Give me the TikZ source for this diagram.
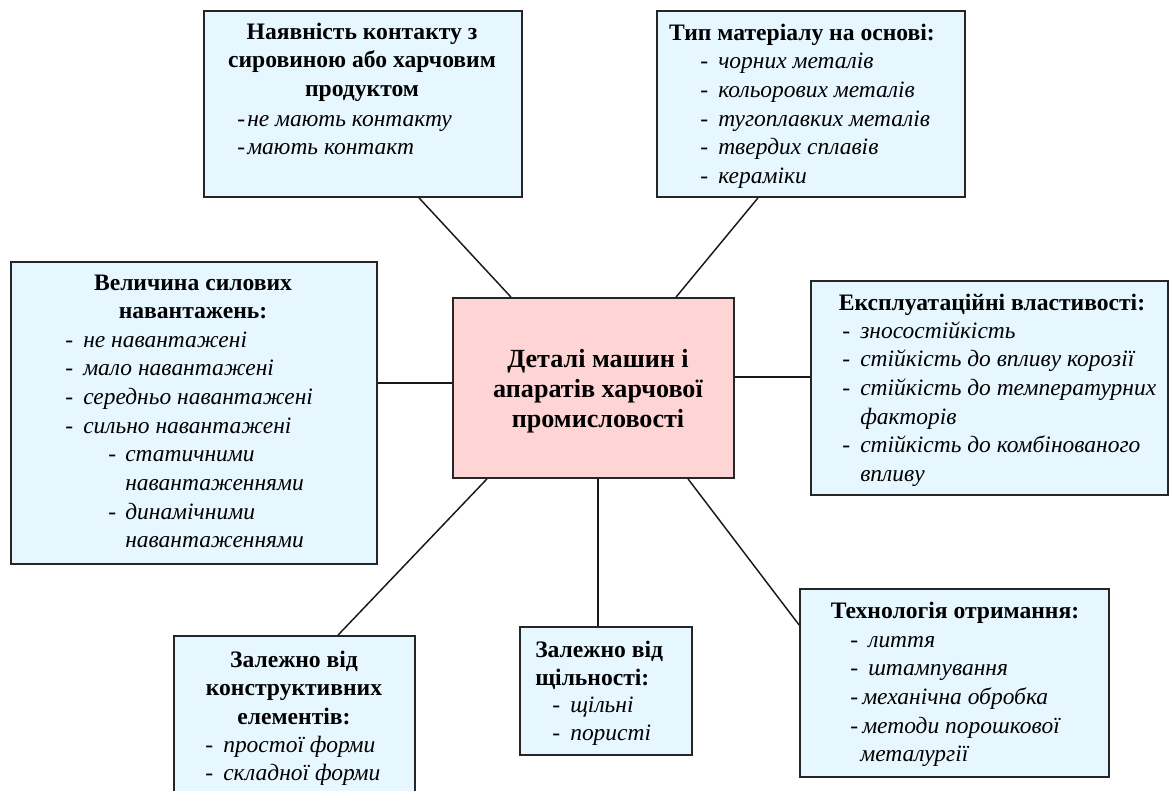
\documentclass[tikz,border=0pt]{standalone}
\usepackage{fontspec}
\setmainfont{Liberation Serif}
\usetikzlibrary{fit,calc}
\definecolor{boxblue}{RGB}{230,247,255}
\definecolor{boxpink}{RGB}{255,212,212}
\newcommand\dashitem[1][13.5pt]{\makebox[#1][l]{-}}
\newcommand\dashgap[1][13.5pt]{\hspace*{#1}}
\begin{document}
\begin{tikzpicture}[x=0.75pt,y=-0.75pt,
  box/.style={draw=black!85, line width=1.3pt, fill=boxblue, inner sep=0pt},
  hub/.style={box, fill=boxpink},
  head/.style={inner sep=0pt, align=center, font=\fontsize{17.7}{21.5}\selectfont\bfseries},
  headl/.style={head, align=left},
  items/.style={inner sep=0pt, align=left, font=\fontsize{17.6}{21.5}\selectfont\itshape},
  hubtext/.style={inner sep=0pt, align=center, font=\fontsize{19.6}{22.5}\selectfont\bfseries},
  link/.style={draw=black!90, line width=1.1pt}]
\useasboundingbox (0,0) rectangle (1173,791);
\clip (0,0) rectangle (1173,791);

% boxes
\node[box, fit={(204,11) (522,197)}] (tl) {};
\node[box, fit={(657,11) (965,197)}] (tr) {};
\node[box, fit={(11,262) (377,564)}] (l) {};
\node[box, fit={(811,281) (1168,495)}] (r) {};
\node[box, fit={(174,636) (415,800)}] (bl) {};
\node[box, fit={(520,627) (692,755)}] (bm) {};
\node[box, fit={(800,589) (1109,777)}] (br) {};
\node[hub, fit={(453,298) (734,478)}] (c) {};

% connectors
\draw[link] ($(tl.south)+(56,0)$) -- ($(c.north)+(-82.5,0)$);
\draw[link] ($(tr.south)+(-53,0)$) -- ($(c.north)+(82.5,0)$);
\draw[link] ($(l.east)+(0,-30)$) -- ($(c.west)+(0,-5)$);
\draw[link] ($(c.east)+(0,-11)$) -- ($(r.west)+(0,-11)$);
\draw[link] ($(c.south)+(-106.5,0)$) -- ($(bl.north)+(43.5,0)$);
\draw[link] ($(c.south)+(4.5,0)$) -- ($(bm.north)+(-8,0)$);
\draw[link] ($(c.south)+(94.5,0)$) -- ($(br.west)+(0,-58)$);

% centre
\node[hubtext, anchor=north] (ct) at (598,346) {\strut Деталі машин і\\апаратів харчової\\промисловості};

% top left
\node[head, anchor=north] (tlh) at (362,18.9) {\strut Наявність контакту з\\сировиною або харчовим\\продуктом};
\node[items, anchor=north west] (tli) at (237,106) {\strut\dashitem[7.5pt]не мають контакту\\\dashitem[7.5pt]мають контакт};

% top right
\node[head, anchor=north] (trh) at (802,19.9) {\strut Тип матеріалу на основі:};
\node[items, anchor=north west] (tri) at (700,48.4) {\strut\dashitem чорних металів\\\dashitem кольорових металів\\\dashitem тугоплавких металів\\\dashitem твердих сплавів\\\dashitem кераміки};

% left
\node[head, anchor=north] (lh) at (193,269.9) {\strut Величина силових\\навантажень:};
\node[items, anchor=north west] (li) at (65,326.9) {\strut\dashitem не навантажені\\\dashitem мало навантажені\\\dashitem середньо навантажені\\\dashitem сильно навантажені\\\hspace*{32.25pt}\dashitem[12.75pt]статичними\\\hspace*{45pt}навантаженнями\\\hspace*{32.25pt}\dashitem[12.75pt]динамічними\\\hspace*{45pt}навантаженнями};

% right
\node[head, anchor=north] (rh) at (992,289.9) {\strut Експлуатаційні властивості:};
\node[items, anchor=north west] (ri) at (842,317.9) {\strut\dashitem зносостійкість\\\dashitem стійкість до впливу корозії\\\dashitem стійкість до температурних\\\dashgap факторів\\\dashitem стійкість до комбінованого\\\dashgap впливу};

% bottom left
\node[head, anchor=north] (blh) at (294,646.9) {\strut Залежно від\\конструктивних\\елементів:};
\node[items, anchor=north west] (bli) at (205,731.9) {\strut\dashitem простої форми\\\dashitem складної форми};

% bottom middle
\node[headl, anchor=north west] (bmh) at (535,636.9) {\strut Залежно від\\щільності:};
\node[items, anchor=north west] (bmi) at (552,691.9) {\strut\dashitem щільні\\\dashitem пористі};

% bottom right
\node[head, anchor=north] (brh) at (955,597.9) {\strut Технологія отримання:};
\node[items, anchor=north west] (bri) at (850,626.9) {\strut\dashitem лиття\\\dashitem штампування\\\dashitem[9pt]механічна обробка\\\dashitem[9pt]методи порошкової\\\dashgap[7.5pt]металургії};
\end{tikzpicture}
\end{document}
